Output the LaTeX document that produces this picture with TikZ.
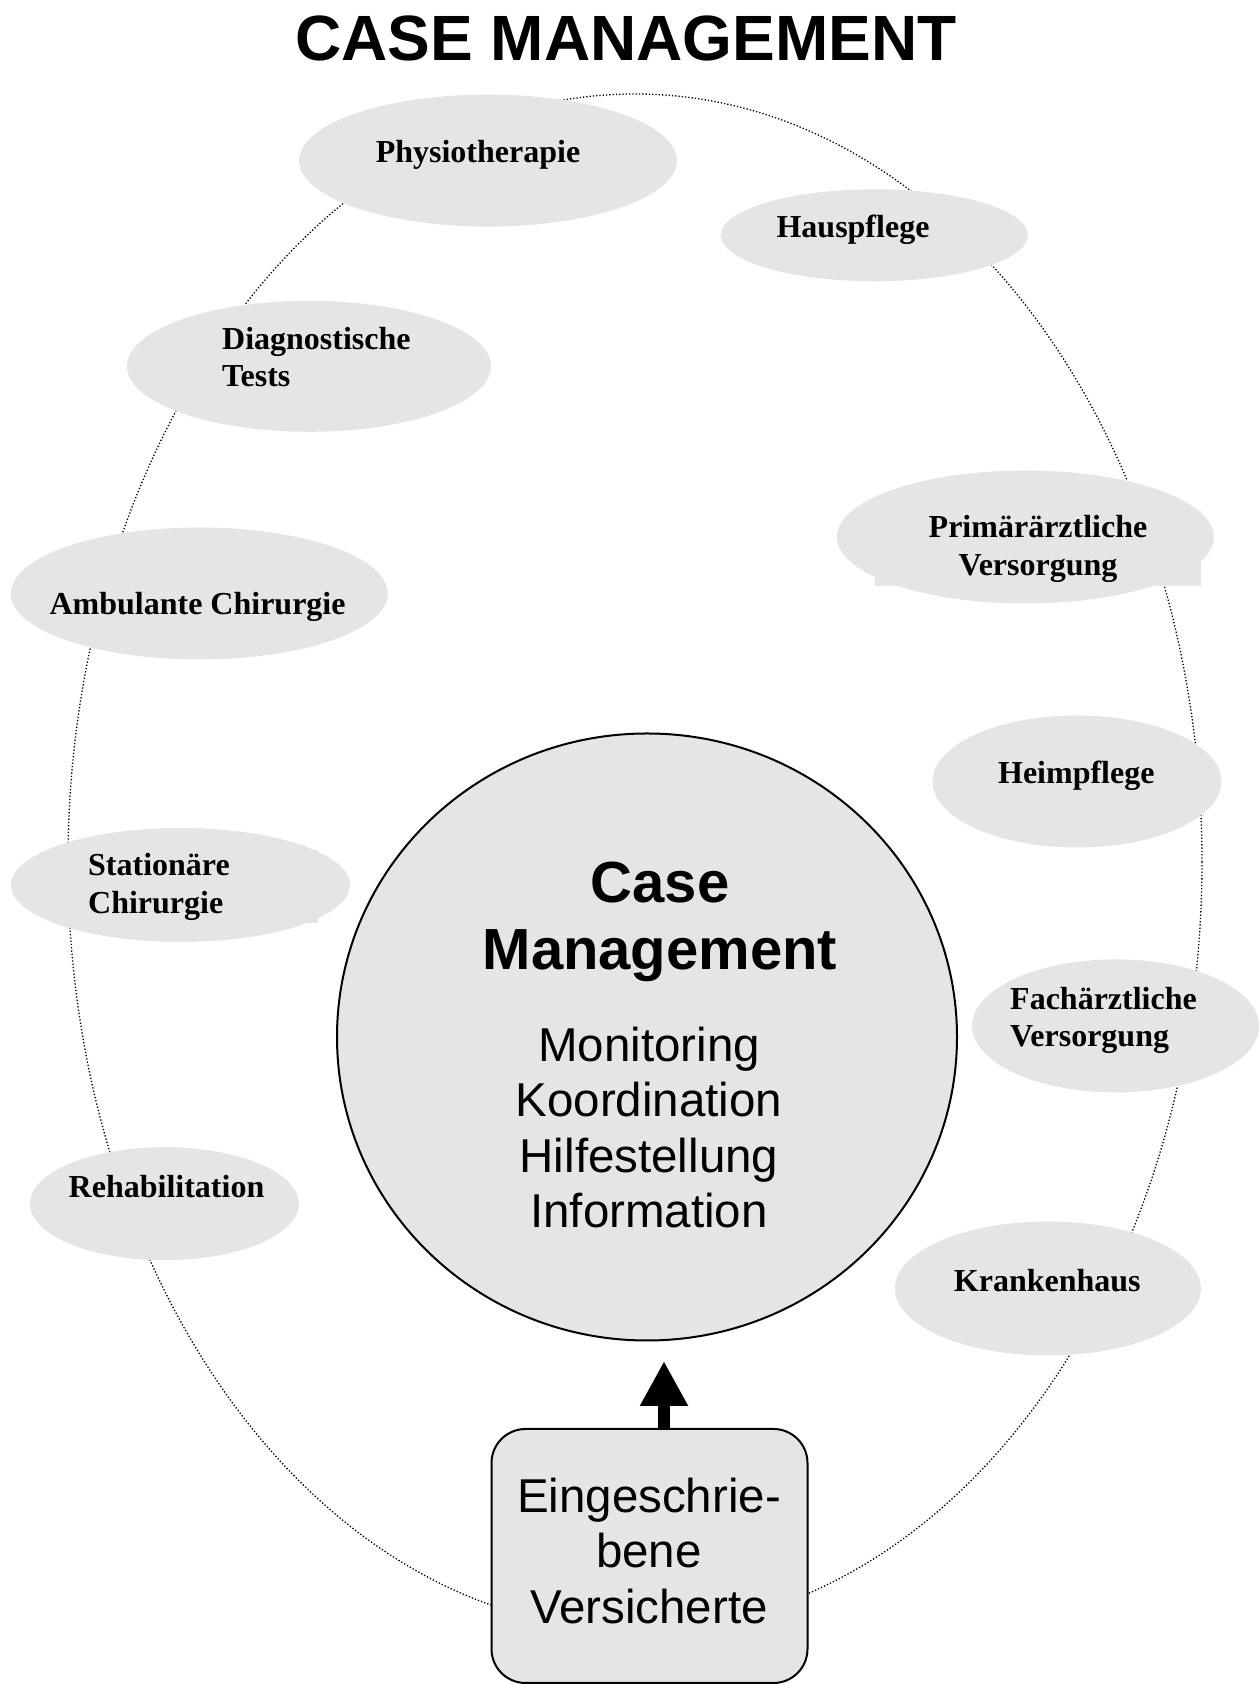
\documentclass[tikz,border=0pt]{standalone}
\usepackage{fontspec}
\setmainfont{Liberation Serif}
\setsansfont{Liberation Sans}
\usetikzlibrary{shapes.geometric,arrows.meta}
\definecolor{cmgray}{RGB}{229,229,229}
\tikzset{
  svc/.style={ellipse, fill=cmgray, inner sep=0pt},
  svctext/.style={font=\bfseries\fontsize{32}{37.6}\selectfont, inner sep=0pt, align=center},
  labelbox/.style={svctext, fill=cmgray},
  tasktext/.style={font=\sffamily\fontsize{47.5}{55.5}\selectfont, inner sep=0pt, align=center},
}
\begin{document}
\begin{tikzpicture}[x=1pt,y=1pt]
      \useasboundingbox (0,0) rectangle (1260,1684);
      \node[inner sep=0pt, font=\sffamily\bfseries\fontsize{64}{64}\selectfont] (title) at (626,1645.5) {CASE MANAGEMENT};
      % outer ring
      \draw[line width=1.3pt, dash pattern=on 1.3pt off 2pt] (635,822) ellipse [x radius=567pt, y radius=768pt];
      % services round the ring
      \node[svc, minimum width=378pt, minimum height=132pt] (physio) at (488,1523.4) {};
      \node[svc, minimum width=307pt, minimum height=92pt] (haus) at (874.4,1448.7) {};
      \node[svc, minimum width=364pt, minimum height=131pt] (diag) at (309,1317.7) {};
      \node[svc, minimum width=377pt, minimum height=132pt] (ambu) at (199.3,1090.5) {};
      \node[svc, minimum width=339pt, minimum height=114pt] (stat) at (180.5,799) {};
      \node[svc, minimum width=269pt, minimum height=113pt] (reha) at (164.4,480.3) {};
      \node[svc, minimum width=377pt, minimum height=133pt] (prim) at (1025.3,1147) {};
      \node[svc, minimum width=289pt, minimum height=132pt] (heim) at (1076.9,902.5) {};
      \node[svc, minimum width=287pt, minimum height=133pt] (fach) at (1115.6,658.1) {};
      \node[svc, minimum width=306pt, minimum height=134pt] (kranken) at (1047.9,395.5) {};
      \node[svctext] (physio-t) at (478,1529) {Physiotherapie};
      \node[svctext] (haus-t) at (853,1454) {Hauspflege};
      \node[svctext, align=left, anchor=west] (diag-t) at (222,1327) {Diagnostische\\Tests};
      \node[svctext] (ambu-t) at (197.6,1077) {Ambulante Chirurgie};
      \node[labelbox, align=left, anchor=west, text width=226pt, inner xsep=4pt, minimum height=73pt] (stat-t) at (84,797) {Station\"are\\Chirurgie};
      \node[svctext] (reha-t) at (166.5,497) {Rehabilitation};
      \node[labelbox, minimum width=326pt, minimum height=75pt] (prim-t) at (1038,1135) {Prim\"ar\"arztliche\\Versorgung};
      \node[svctext] (heim-t) at (1076.3,908) {Heimpflege};
      \node[labelbox, align=left, anchor=west, text width=208pt, inner xsep=2pt, minimum height=79.5pt] (fach-t) at (1008,663.5) {Fach\"arztliche\\Versorgung};
      \node[svctext] (kranken-t) at (1047.3,403.5) {Krankenhaus};
      % centre
      \node[ellipse, draw, line width=2pt, fill=cmgray, inner sep=0pt, minimum width=620pt, minimum height=607pt] (hub) at (647,647) {};
      \node[inner sep=0pt, align=center, font=\sffamily\bfseries\fontsize{58}{66.6}\selectfont] (hub-head) at (660,762) {Case\\Management};
      \node[tasktext] (hub-tasks) at (649,556.5) {Monitoring\\Koordination\\Hilfestellung\\Information};
      % insured persons
      \node[draw, line width=2pt, fill=cmgray, rounded corners=34pt, minimum width=316pt, minimum height=254pt] (insured) at (649.5,128) {};
      \node[tasktext] (insured-t) at (649,133) {Eingeschrie-\\bene\\Versicherte};
      \draw[line width=11.6pt, shorten >=19.5pt, -{Triangle[length=45pt, width=45pt]}]
        ([xshift=14.5pt]insured.north) -- ([xshift=14.5pt]insured.north |- hub.south);
    \end{tikzpicture}
\end{document}
